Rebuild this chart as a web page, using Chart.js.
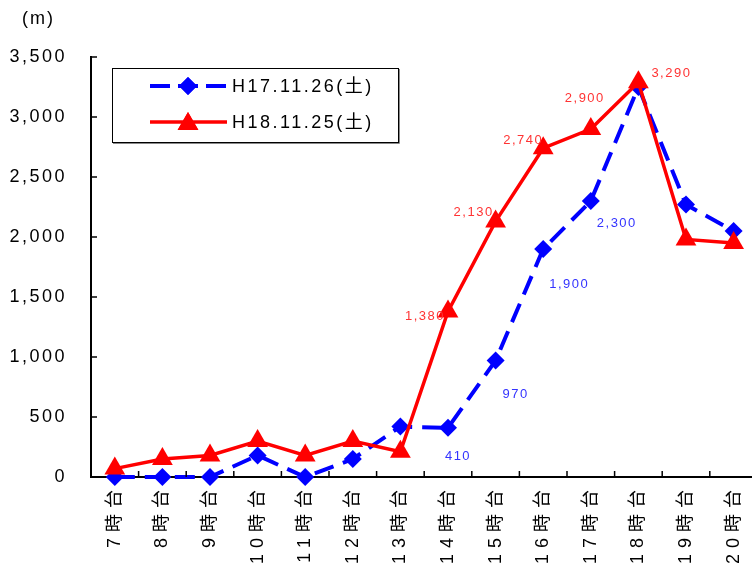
<!DOCTYPE html>
<html>
<head>
<meta charset="utf-8">
<script src="https://cdn.jsdelivr.net/npm/chart.js@4"></script>
<style>
  html, body { margin: 0; padding: 0; background: #fff; overflow: hidden; }
  #wrap { position: absolute; left: 0; top: 0; width: 770px; height: 620px; }
</style>
</head>
<body>
<div id="wrap"><canvas id="jamChart" width="770" height="620"></canvas></div>
<script>
// Data
const hours = ['7時台', '8時台', '9時台', '10時台', '11時台', '12時台', '13時台',
               '14時台', '15時台', '16時台', '17時台', '18時台', '19時台', '20時台'];
const seriesNames = ['H17.11.26(土)', 'H18.11.25(土)'];
const h17Values = [0, 0, 0, 180, 0, 150, 420, 410, 970, 1900, 2300, 3250, 2270, 2050];
const h18Values = [70, 150, 180, 300, 180, 300, 210, 1380, 2130, 2740, 2900, 3290, 1980, 1950];
const yMin = 0;
const yMax = 3500;
const yStep = 500;
const unitLabel = '(m)';
// which points carry a value label
const h17Labeled = [7, 8, 9, 10];
const h18Labeled = [7, 8, 9, 10, 11];

// Styles
const FONT = '"Liberation Sans", "Noto Sans CJK JP", Arial, sans-serif';
const BLUE = '#0000ff';
const RED = '#ff0000';
const BLUE_TEXT = '#3333ff';
const RED_TEXT = '#ff3333';
// label offsets from the point (px)
const h17LabelOffsets = { 7: [10, 29], 8: [20, 34], 9: [26, 35], 10: [26, 22] };
const h18LabelOffsets = { 7: [-23, 5], 8: [-22, -9], 9: [-20, -8], 10: [-6, -31], 11: [33, -9] };

const fmt = v => Number(v).toLocaleString('en-US');

function withSpacing(scale, sp) {
  if (!scale || scale._spPatched) return;
  const orig = scale.drawLabels;
  scale.drawLabels = function(area) {
    this.ctx.save();
    this.ctx.letterSpacing = sp;
    orig.call(this, area);
    this.ctx.restore();
  };
  scale._spPatched = true;
}

function marker(ctx, style, radius, color, x, y) {
  ctx.fillStyle = color;
  Chart.helpers.drawPoint(ctx, { pointStyle: style, radius: radius, borderWidth: 0, rotation: 0 }, x, y);
  ctx.fill();
}

const decorPlugin = {
  id: 'decor',
  afterLayout(chart) {
    withSpacing(chart.scales.x, '6px');
    withSpacing(chart.scales.y, '2.5px');
  },
  afterDatasetsDraw(chart) {
    const ctx = chart.ctx;
    ctx.save();
    ctx.font = '13px ' + FONT;
    ctx.letterSpacing = '1.5px';
    ctx.textAlign = 'center';
    ctx.textBaseline = 'middle';
    const sets = [
      { di: 0, idx: h17Labeled, off: h17LabelOffsets, color: BLUE_TEXT },
      { di: 1, idx: h18Labeled, off: h18LabelOffsets, color: RED_TEXT }
    ];
    sets.forEach(s => {
      const meta = chart.getDatasetMeta(s.di);
      const values = chart.data.datasets[s.di].data;
      ctx.fillStyle = s.color;
      s.idx.forEach(i => {
        const pt = meta.data[i];
        const o = s.off[i] || [0, 0];
        ctx.fillText(fmt(values[i]), pt.x + o[0], pt.y + o[1]);
      });
    });
    ctx.restore();
  },
  afterDraw(chart) {
    const ctx = chart.ctx;
    const area = chart.chartArea;
    const xs = chart.scales.x;
    const ys = chart.scales.y;
    ctx.save();

    // inward tick marks
    ctx.strokeStyle = '#000';
    ctx.lineWidth = 1.5;
    ctx.beginPath();
    ys.ticks.forEach((t, i) => {
      const py = ys.getPixelForTick(i);
      ctx.moveTo(area.left, py);
      ctx.lineTo(area.left + 6, py);
    });
    const half = (xs.getPixelForTick(1) - xs.getPixelForTick(0)) / 2;
    for (let i = 1; i <= xs.ticks.length; i++) {
      const px = xs.getPixelForTick(0) - half + i * half * 2;
      ctx.moveTo(px, area.bottom);
      ctx.lineTo(px, area.bottom - 6);
    }
    ctx.stroke();

    // unit label
    ctx.fillStyle = '#000';
    ctx.font = '18px ' + FONT;
    ctx.letterSpacing = '2px';
    ctx.textAlign = 'left';
    ctx.textBaseline = 'middle';
    ctx.fillText(unitLabel, 22, 19);

    // legend box
    ctx.letterSpacing = '0px';
    ctx.lineWidth = 1;
    ctx.strokeStyle = '#000';
    ctx.strokeRect(112.5, 68.5, 286, 74);
    ctx.strokeStyle = '#888';
    ctx.beginPath();
    ctx.moveTo(113, 143.5); ctx.lineTo(399.5, 143.5); ctx.lineTo(399.5, 69);
    ctx.stroke();

    const rows = [
      { y: 86, color: BLUE, width: 4, dash: [20, 8], style: 'rectRot', r: 9 },
      { y: 122, color: RED, width: 3.5, dash: [], style: 'triangle', r: 12 }
    ];
    rows.forEach((row, i) => {
      ctx.strokeStyle = row.color;
      ctx.lineWidth = row.width;
      ctx.setLineDash(row.dash);
      ctx.beginPath();
      ctx.moveTo(150, row.y);
      ctx.lineTo(227, row.y);
      ctx.stroke();
      ctx.setLineDash([]);
      marker(ctx, row.style, row.r, row.color, 188, row.y + (row.style === 'triangle' ? 2 : 0));
      ctx.fillStyle = '#000';
      ctx.font = '18px ' + FONT;
      ctx.letterSpacing = '2.5px';
      ctx.textAlign = 'left';
      ctx.textBaseline = 'middle';
      ctx.fillText(seriesNames[i], 232, row.y + 1);
      ctx.letterSpacing = '0px';
    });
    ctx.restore();
  }
};

const ctx = document.getElementById('jamChart').getContext('2d');
const chart = new Chart(ctx, {
  type: 'line',
  data: {
    labels: hours,
    datasets: [
      {
        label: seriesNames[0],
        data: h17Values,
        borderColor: BLUE,
        backgroundColor: BLUE,
        borderWidth: 4,
        borderDash: [20, 10],
        pointStyle: 'rectRot',
        pointRadius: 9,
        pointBorderWidth: 0,
        pointBackgroundColor: BLUE,
        tension: 0,
        clip: false,
        order: 1
      },
      {
        label: seriesNames[1],
        data: h18Values,
        borderColor: RED,
        backgroundColor: RED,
        borderWidth: 3.5,
        pointStyle: 'triangle',
        pointRadius: 12,
        pointBorderWidth: 0,
        pointBackgroundColor: RED,
        tension: 0,
        clip: false,
        order: 0
      }
    ]
  },
  options: {
    responsive: false,
    animation: false,
    devicePixelRatio: 1,
    layout: { padding: { top: 57, right: 12.6, left: 0, bottom: 0 } },
    plugins: {
      legend: { display: false },
      tooltip: { enabled: false },
      title: { display: false }
    },
    scales: {
      x: {
        offset: true,
        grid: { display: false, drawTicks: false, offset: true },
        border: { display: true, color: '#000', width: 2 },
        ticks: {
          autoSkip: false,
          maxRotation: 90,
          minRotation: 90,
          padding: 7,
          color: '#000',
          font: { family: FONT, size: 18 }
        },
        afterFit(scale) { scale.height = 143; }
      },
      y: {
        min: yMin,
        max: yMax,
        grid: { display: false, drawTicks: false },
        border: { display: true, color: '#000', width: 2 },
        ticks: {
          stepSize: yStep,
          padding: 24,
          color: '#000',
          font: { family: FONT, size: 18 },
          callback: v => fmt(v)
        },
        afterFit(scale) { scale.width = 91; }
      }
    }
  },
  plugins: [decorPlugin]
});
</script>
</body>
</html>
